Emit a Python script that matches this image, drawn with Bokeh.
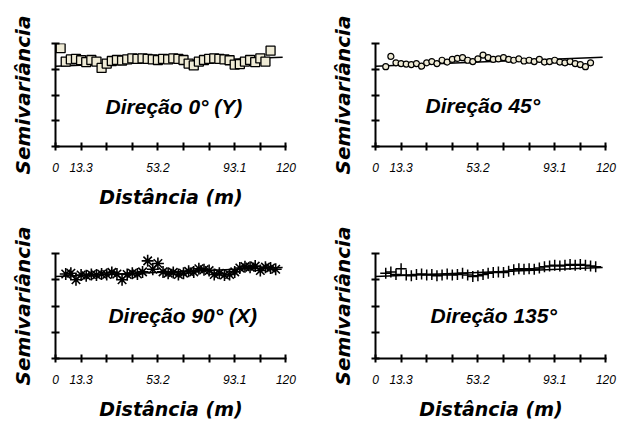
from bokeh.plotting import figure
from bokeh.layouts import column, row
from bokeh.models import Range1d, FixedTicker, CustomJSTickFormatter, Label
from bokeh.embed import file_html
from bokeh.resources import INLINE

# ---------------- data ----------------
x_label_ticks = [0, 13.3, 53.2, 93.1, 119.7]
x_tick_labels = ["0", "13.3", "53.2", "93.1", "120"]
x_unlabeled_ticks = [26.6, 39.9, 66.5, 79.8, 106.4]
y_ticks = [0, 1, 2, 3, 4]

lag_a = [2.66, 5.32, 7.98, 10.64, 13.3, 15.96, 18.62, 21.28, 23.94, 26.6,
         29.26, 31.92, 34.58, 37.24, 39.9, 42.56, 45.22, 47.88, 50.54, 53.2,
         55.86, 58.52, 61.18, 63.84, 66.5, 69.16, 71.82, 74.48, 77.14, 79.8,
         82.46, 85.12, 87.78, 90.44, 93.1, 95.76, 98.42, 101.08, 103.74, 106.4,
         109.06, 111.72]
semi_0 = [3.82, 3.30, 3.38, 3.40, 3.35, 3.28, 3.36, 3.30, 3.05, 3.22,
          3.32, 3.36, 3.34, 3.38, 3.42, 3.40, 3.42, 3.40, 3.38, 3.36,
          3.40, 3.38, 3.42, 3.40, 3.36, 3.22, 3.15, 3.30, 3.36, 3.40,
          3.42, 3.40, 3.38, 3.35, 3.18, 3.20, 3.30, 3.36, 3.28, 3.42,
          3.30, 3.72]

lag_b = [5.32, 7.98, 10.64, 13.3, 15.96, 18.62, 21.28, 23.94, 26.6,
         29.26, 31.92, 34.58, 37.24, 39.9, 42.56, 45.22, 47.88, 50.54, 53.2,
         55.86, 58.52, 61.18, 63.84, 66.5, 69.16, 71.82, 74.48, 77.14, 79.8,
         82.46, 85.12, 87.78, 90.44, 93.1, 95.76, 98.42, 101.08, 103.74, 106.4,
         109.06, 111.72]
semi_45 = [3.10, 3.50, 3.25, 3.22, 3.20, 3.18, 3.22, 3.12, 3.25,
           3.30, 3.22, 3.35, 3.28, 3.38, 3.42, 3.45, 3.35, 3.30, 3.40,
           3.55, 3.45, 3.38, 3.40, 3.45, 3.38, 3.35, 3.40, 3.32, 3.35,
           3.30, 3.38, 3.28, 3.30, 3.35, 3.28, 3.25, 3.30, 3.22, 3.18,
           3.10, 3.25]

lag_c = [5.32, 7.98, 10.64, 13.3, 15.96, 18.62, 21.28, 23.94, 26.6,
         29.26, 31.92, 34.58, 37.24, 39.9, 42.56, 45.22, 47.88, 50.54, 53.2,
         55.86, 58.52, 61.18, 63.84, 66.5, 69.16, 71.82, 74.48, 77.14, 79.8,
         82.46, 85.12, 87.78, 90.44, 93.1, 95.76, 98.42, 101.08, 103.74, 106.4,
         109.06, 111.72, 114.38]
semi_90 = [3.22, 3.25, 3.00, 3.18, 3.15, 3.20, 3.18, 3.22, 3.20,
           3.28, 3.22, 3.00, 3.20, 3.25, 3.22, 3.30, 3.72, 3.40, 3.62,
           3.30, 3.25, 3.28, 3.20, 3.25, 3.32, 3.30, 3.42, 3.38, 3.35,
           3.20, 3.25, 3.18, 3.20, 3.30, 3.45, 3.50, 3.48, 3.52, 3.35,
           3.48, 3.45, 3.40]
semi_135 = [3.25, 3.30, 3.20, 3.42, 3.18, 3.15, 3.20, 3.22, 3.18,
            3.20, 3.15, 3.18, 3.22, 3.18, 3.20, 3.25, 3.18, 3.12, 3.15,
            3.20, 3.25, 3.28, 3.30, 3.28, 3.32, 3.38, 3.42, 3.40, 3.42,
            3.40, 3.45, 3.50, 3.52, 3.55, 3.52, 3.55, 3.58, 3.55, 3.58,
            3.55, 3.52, 3.50]

model_x = [0, 118]
model_y = [3.12, 3.47]

titles = ["Direção 0° (Y)", "Direção 45°", "Direção 90° (X)", "Direção 135°"]
x_title = "Distância (m)"
y_title = "Semivariância"

FILL = "#EFEBD6"


def make_panel(width, height, bl, bt, br, bb, title, show_xtitle, tx, ty):
    p = figure(width=width, height=height, output_backend="svg",
               toolbar_location=None, x_range=Range1d(0, 120),
               y_range=Range1d(0, 4),
               min_border_left=bl, min_border_top=bt,
               min_border_right=br, min_border_bottom=bb)
    p.outline_line_color = None
    p.grid.visible = False
    p.background_fill_color = "white"
    p.border_fill_color = "white"

    xa = p.xaxis[0]
    xa.ticker = FixedTicker(ticks=x_label_ticks, minor_ticks=x_unlabeled_ticks)
    xa.formatter = CustomJSTickFormatter(args=dict(t=x_label_ticks, l=x_tick_labels), code="""
        for (let i = 0; i < t.length; i++) {
            if (Math.abs(tick - t[i]) < 1e-6) return l[i];
        }
        return String(tick);
    """)
    xa.axis_line_color = "black"
    xa.axis_line_width = 2
    xa.major_tick_line_color = "black"
    xa.major_tick_line_width = 2
    xa.major_tick_in = 4
    xa.major_tick_out = 4
    xa.minor_tick_line_color = "black"
    xa.minor_tick_line_width = 2
    xa.minor_tick_in = 4
    xa.minor_tick_out = 4
    xa.major_label_text_font = "Liberation Sans"
    xa.major_label_text_font_style = "italic"
    xa.major_label_text_font_size = "12px"
    xa.major_label_text_color = "black"
    xa.major_label_standoff = 12
    if show_xtitle:
        xa.axis_label = x_title
        xa.axis_label_text_font = "DejaVu Sans"
        xa.axis_label_text_font_style = "bold italic"
        xa.axis_label_text_font_size = "19px"
        xa.axis_label_text_color = "black"
        xa.axis_label_standoff = 11

    ya = p.yaxis[0]
    ya.ticker = FixedTicker(ticks=[], minor_ticks=y_ticks)
    ya.axis_line_color = "black"
    ya.axis_line_width = 2
    ya.minor_tick_line_color = "black"
    ya.minor_tick_line_width = 2
    ya.minor_tick_in = 4
    ya.minor_tick_out = 4
    ya.major_label_standoff = 0
    ya.axis_label = y_title
    ya.axis_label_text_font = "DejaVu Sans"
    ya.axis_label_text_font_style = "bold italic"
    ya.axis_label_text_font_size = "20px"
    ya.axis_label_text_color = "black"
    ya.axis_label_standoff = 17

    p.add_layout(Label(x=tx, y=ty, text=title, text_font="Liberation Sans",
                       text_font_style="bold italic", text_font_size="21px",
                       text_baseline="middle", text_color="black"))
    return p


p1 = make_panel(320, 210, 55, 43, 34, 54, titles[0], True, 26, 1.56)
p1.line(model_x, model_y, line_color="black", line_width=1.5)
p1.scatter(lag_a, semi_0, marker="square", size=9, fill_color=FILL,
           line_color="black", line_width=1.3)

p2 = make_panel(306, 210, 55, 43, 20, 54, titles[1], False, 26, 1.58)
p2.line(model_x, model_y, line_color="black", line_width=1.5)
p2.scatter(lag_b, semi_45, marker="circle", size=6, fill_color=FILL,
           line_color="black", line_width=1.2)

p3 = make_panel(320, 212, 55, 43, 34, 56, titles[2], True, 27.5, 1.63)
p3.line(model_x, model_y, line_color="black", line_width=1.5)
p3.scatter(lag_c, semi_90, marker="asterisk", size=12, line_color="black",
           line_width=1.6)

p4 = make_panel(306, 212, 55, 43, 20, 56, titles[3], True, 28.6, 1.63)
p4.line(model_x, model_y, line_color="black", line_width=1.5)
p4.scatter(lag_c, semi_135, marker="cross", size=11, line_color="black",
           line_width=1.5)

layout = column(row(p1, p2), row(p3, p4))

open("out.html", "w").write(file_html(layout, INLINE))
